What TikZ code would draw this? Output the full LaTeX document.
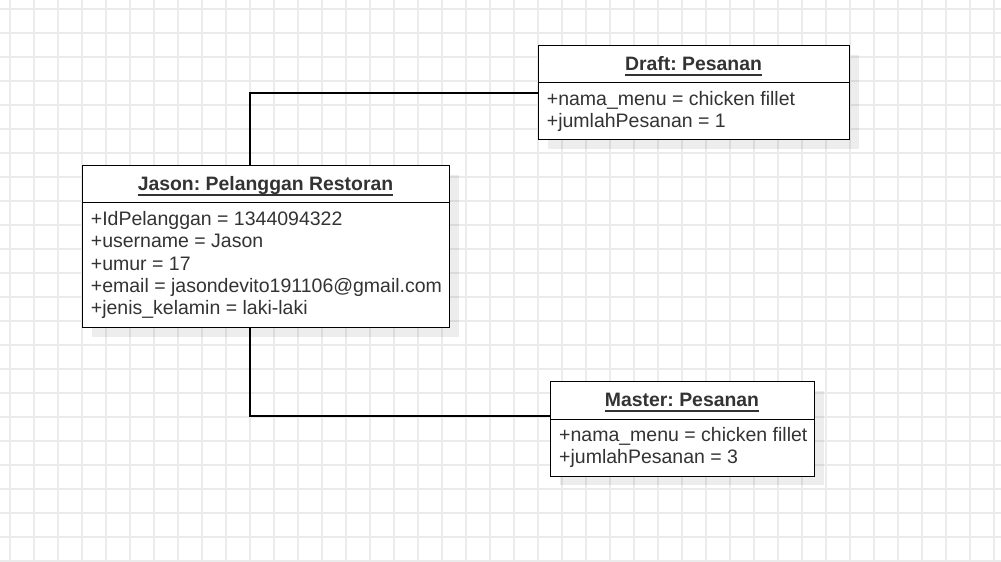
\documentclass[tikz,border=0pt]{standalone}
\usepackage{fontspec}
\setmainfont{Liberation Sans}
\usetikzlibrary{calc}
\definecolor{gridc}{HTML}{EBEBEB}
\definecolor{txt}{HTML}{333333}
\frenchspacing
\begin{document}
\begin{tikzpicture}[x=1pt,y=-1pt,
  boxpart/.style={draw=black,line width=1.3pt,fill=white,inner sep=0,anchor=north west},
  shadowbox/.style={fill=black,opacity=0.07,draw=none},
  ttl/.style={font=\fontsize{19.4pt}{22pt}\selectfont\bfseries\frenchspacing,text=txt,inner sep=0,anchor=base},
  attr/.style={font=\fontsize{19.5pt}{22pt}\selectfont\frenchspacing,text=txt,inner sep=0,anchor=base west},
  conn/.style={draw=black,line width=1.3pt}]
\useasboundingbox (0,0) rectangle (1001,562);
\fill[white] (0,0) rectangle (1001,562);
% grid
\foreach \x in {10,34,...,994} \draw[gridc,line width=1.3pt] (\x,0) -- (\x,562);
\foreach \y in {9,33,...,561} \draw[gridc,line width=1.3pt] (0,\y) -- (1001,\y);
% shadows
\fill[shadowbox] (92,175) rectangle (459,337);
\fill[shadowbox] (548,55) rectangle (859,149);
\fill[shadowbox] (560,391) rectangle (824,485);
% connector bends
\coordinate (c1) at (250,93);
\coordinate (c2) at (250,416);
% Jason
\node[boxpart,minimum width=367pt,minimum height=37pt] (jh) at (82,165) {};
\node[boxpart,minimum width=367pt,minimum height=125pt] (jb) at (82,202) {};
% Draft
\node[boxpart,minimum width=311pt,minimum height=37pt] (dh) at (538,45) {};
\node[boxpart,minimum width=311pt,minimum height=57pt] (db) at (538,82) {};
% Master
\node[boxpart,minimum width=264pt,minimum height=38pt] (mh) at (550,381) {};
\node[boxpart,minimum width=264pt,minimum height=57pt] (mb) at (550,419) {};
\draw[conn] (jh.north -| c1) -- (c1) -- (dh.west |- c1);
\draw[conn] (jb.south -| c2) -- (c2) -- (mh.west |- c2);
% titles
\node[ttl] (jt) at (265.5,190.7) {Jason: Pelanggan Restoran};
\node[ttl] (dt) at (693.5,70.7) {Draft: Pesanan};
\node[ttl] (mt) at (682,406.7) {Master: Pesanan};
\foreach \n in {jt,dt,mt}
  \draw[txt,line width=1.4pt] ($(\n.base west)+(0,4.3)$) -- ($(\n.base east)+(0,4.3)$);
% attributes
\foreach \t [count=\i] in {+IdPelanggan = 1344094322,+username = Jason,+umur = 17,+email = jasondevito191106@gmail.com,+jenis\_kelamin = laki-laki}
  \node[attr] (ja\i) at (90.7,{225.7+22.2*(\i-1)}) {\t};
\node[attr] (da1) at (546.7,105) {+nama\_menu = chicken fillet};
\node[attr] (da2) at (546.7,127.3) {+jumlahPesanan = 1};
\node[attr] (ma1) at (559,441.7) {+nama\_menu = chicken fillet};
\node[attr] (ma2) at (559,463.3) {+jumlahPesanan = 3};
\end{tikzpicture}
\end{document}
